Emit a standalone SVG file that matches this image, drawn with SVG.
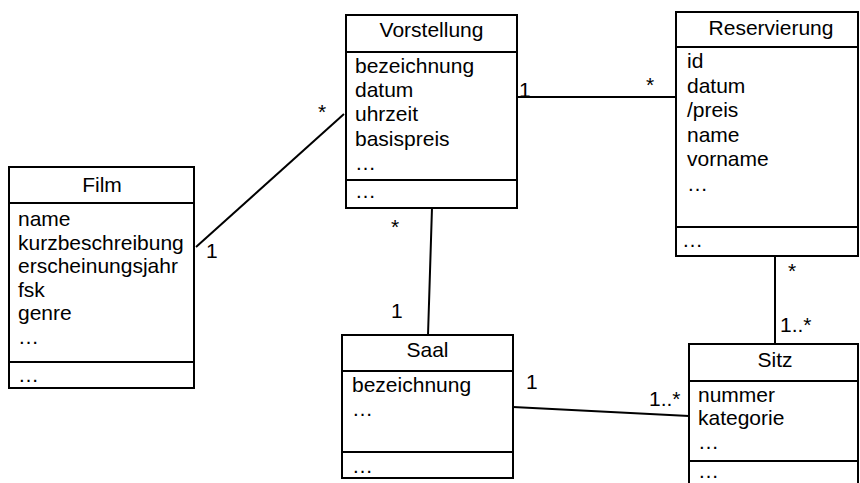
<svg xmlns="http://www.w3.org/2000/svg" width="860" height="483" viewBox="0 0 860 483">
<style>
text{font-family:"Liberation Sans",Arial,sans-serif;font-size:21px;fill:#000}
.t{text-anchor:middle}
.m{text-anchor:middle}
rect{fill:#fff;stroke:#000;stroke-width:2}
line{stroke:#000;stroke-width:2}
</style>
<rect width="860" height="483" style="stroke:none"/>
<g id="connectors">
<line x1="196" y1="247" x2="344" y2="114"/>
<line x1="515" y1="97" x2="676" y2="97"/>
<line x1="432" y1="208" x2="428" y2="335"/>
<line x1="775" y1="256" x2="775" y2="344"/>
<line x1="513" y1="407" x2="689" y2="416"/>
<text class="m" x="322" y="119">*</text>
<text x="206" y="258">1</text>
<text x="519" y="97">1</text>
<text class="m" x="650" y="92">*</text>
<text class="m" x="395" y="234">*</text>
<text x="391" y="318">1</text>
<text class="m" x="792" y="278">*</text>
<text x="780" y="332">1..*</text>
<text x="526" y="389">1</text>
<text x="649" y="406">1..*</text>
</g>
<g id="film">
<rect x="9" y="167" width="185" height="221"/>
<line x1="9" y1="203" x2="194" y2="203"/>
<line x1="9" y1="362" x2="194" y2="362"/>
<text class="t" x="102" y="192">Film</text>
<text x="18" y="226">name</text>
<text x="18" y="249.5">kurzbeschreibung</text>
<text x="18" y="273">erscheinungsjahr</text>
<text x="18" y="296.5">fsk</text>
<text x="18" y="320">genre</text>
<text x="18" y="343.5">…</text>
<text x="18" y="382">…</text>
</g>
<g id="vorstellung">
<rect x="346" y="15" width="171" height="193"/>
<line x1="346" y1="52" x2="517" y2="52"/>
<line x1="346" y1="180" x2="517" y2="180"/>
<text class="t" x="431.5" y="37">Vorstellung</text>
<text x="355" y="73">bezeichnung</text>
<text x="355" y="97">datum</text>
<text x="355" y="121">uhrzeit</text>
<text x="355" y="145.5">basispreis</text>
<text x="355" y="170">…</text>
<text x="355" y="198">…</text>
</g>
<g id="reservierung">
<rect x="676" y="12" width="182" height="244"/>
<line x1="676" y1="47" x2="858" y2="47"/>
<line x1="676" y1="227" x2="858" y2="227"/>
<text class="t" x="771" y="35">Reservierung</text>
<text x="687" y="68">id</text>
<text x="687" y="92.5">datum</text>
<text x="687" y="117">/preis</text>
<text x="687" y="141.5">name</text>
<text x="687" y="166">vorname</text>
<text x="687" y="190.5">…</text>
<text x="682" y="247">…</text>
</g>
<g id="saal">
<rect x="342" y="335" width="171" height="143"/>
<line x1="342" y1="371" x2="513" y2="371"/>
<line x1="342" y1="452" x2="513" y2="452"/>
<text class="t" x="427.5" y="357">Saal</text>
<text x="352" y="392">bezeichnung</text>
<text x="352" y="416">…</text>
<text x="352" y="473">…</text>
</g>
<g id="sitz">
<rect x="689" y="344" width="169" height="150"/>
<line x1="689" y1="381" x2="858" y2="381"/>
<line x1="689" y1="461" x2="858" y2="461"/>
<text class="t" x="775" y="367">Sitz</text>
<text x="698" y="402">nummer</text>
<text x="698" y="425">kategorie</text>
<text x="698" y="449">…</text>
<text x="698" y="478">…</text>
</g>
</svg>
